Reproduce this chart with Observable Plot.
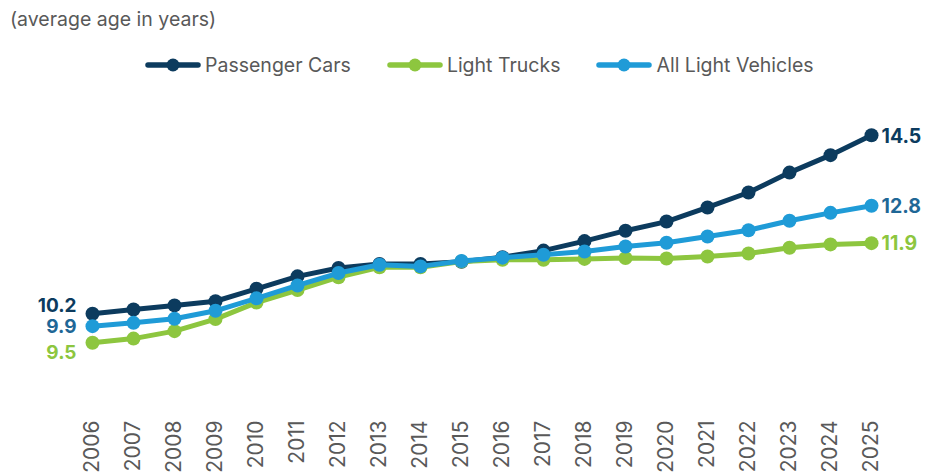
<!DOCTYPE html>
<html>
<head>
<meta charset="utf-8">
<script src="https://cdn.jsdelivr.net/npm/d3@7"></script>
<script src="https://cdn.jsdelivr.net/npm/@observablehq/plot@0.6"></script>
<style>
  body { margin: 0; background: #fff; font-family: Inter, "Open Sans", sans-serif; width: 928px; height: 472px; overflow: hidden; position: relative; }
  #sub { position: absolute; left: 10px; top: 7px; font-size: 19.5px; color: #595959; white-space: nowrap; }
  #legend { position: absolute; left: 145px; top: 53px; display: flex; align-items: center; font-size: 19.5px; color: #595959; white-space: nowrap; }
  #legend .item { display: flex; align-items: center; margin-right: 36px; }
  #legend svg { display: block; margin-right: 4px; }
  #chart { position: absolute; left: 0; top: 90px; }
</style>
</head>
<body>
<div id="sub">(average age in years)</div>
<div id="legend"></div>
<div id="chart"></div>
<script>
// ---- data ----
const years = [2006, 2007, 2008, 2009, 2010, 2011, 2012, 2013, 2014, 2015,
               2016, 2017, 2018, 2019, 2020, 2021, 2022, 2023, 2024, 2025];
const seriesNames = ["Passenger Cars", "Light Trucks", "All Light Vehicles"];
const passengerCars = [10.2, 10.3, 10.4, 10.5, 10.8, 11.1, 11.3, 11.4, 11.4, 11.45,
                       11.56, 11.72, 11.95, 12.2, 12.42, 12.76, 13.12, 13.6, 14.02, 14.5];
const lightTrucks = [9.5, 9.6, 9.78, 10.07, 10.47, 10.77, 11.08, 11.32, 11.32, 11.46,
                     11.5, 11.5, 11.52, 11.54, 11.53, 11.58, 11.65, 11.79, 11.87, 11.9];
const allLightVehicles = [9.9, 9.98, 10.08, 10.27, 10.57, 10.88, 11.18, 11.38, 11.34, 11.47,
                          11.55, 11.62, 11.7, 11.82, 11.91, 12.06, 12.21, 12.44, 12.63, 12.8];
const seriesValues = [passengerCars, lightTrucks, allLightVehicles];

// ---- styles ----
const lineColors = ["#0c3b5e", "#8dc63f", "#1f9bd7"];
const labelColors = ["#0c3b5e", "#8dc63f", "#1f6796"];
const leftLabelDy = [-8, 10, 1];
const rightLabelDy = [1, 1, 1];

// tidy table
const rows = [];
seriesNames.forEach((s, i) => years.forEach((y, j) => rows.push({series: s, year: y, value: seriesValues[i][j]})));

// legend
const legend = document.getElementById("legend");
seriesNames.forEach((s, i) => {
  const item = document.createElement("div");
  item.className = "item";
  item.innerHTML = `<svg width="56" height="16"><line x1="3" y1="8" x2="53" y2="8" stroke="${lineColors[i]}" stroke-width="5.5" stroke-linecap="round"/><circle cx="28" cy="8" r="6.5" fill="${lineColors[i]}"/></svg><span>${s}</span>`;
  legend.appendChild(item);
});

const marks = [];
seriesNames.forEach((s, i) => {
  const data = rows.filter(d => d.series === s);
  marks.push(Plot.line(data, {x: "year", y: "value", stroke: lineColors[i], strokeWidth: 5, curve: "linear"}));
  marks.push(Plot.dot(data, {x: "year", y: "value", fill: lineColors[i], r: 7}));
});
seriesNames.forEach((s, i) => {
  const data = rows.filter(d => d.series === s);
  const first = [data[0]], last = [data[data.length - 1]];
  marks.push(Plot.text(first, {x: "year", y: "value", text: d => d.value.toFixed(1), textAnchor: "end", dx: -16, dy: leftLabelDy[i], fill: labelColors[i], fontSize: 19, fontWeight: "bold"}));
  marks.push(Plot.text(last, {x: "year", y: "value", text: d => d.value.toFixed(1), textAnchor: "start", dx: 10, dy: rightLabelDy[i], fill: labelColors[i], fontSize: 19.5, fontWeight: "bold"}));
});
marks.push(Plot.axisX({tickRotate: -90, tickSize: 0, tickPadding: 57, fontSize: 21, color: "#595959", tickFormat: d => String(d), label: null}));

const chart = Plot.plot({
  width: 928,
  height: 382,
  marginLeft: 89,
  marginRight: 55,
  marginTop: 24,
  marginBottom: 109,
  style: {fontFamily: "Inter, 'Open Sans', sans-serif", background: "#fff", overflow: "visible"},
  x: {type: "point", domain: years, padding: 0},
  y: {domain: [9, 15], axis: null},
  marks
});
document.getElementById("chart").appendChild(chart);
</script>
</body>
</html>
